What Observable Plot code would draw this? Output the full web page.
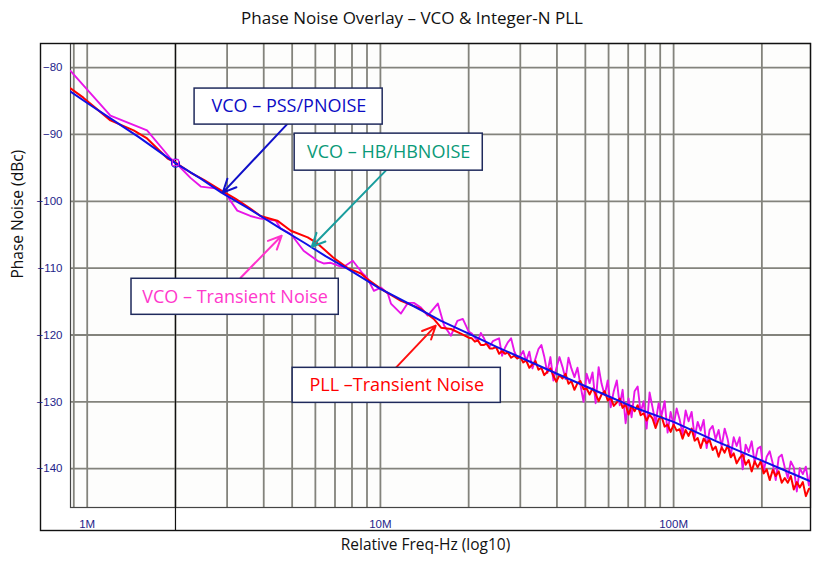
<!DOCTYPE html>
<html><head><meta charset="utf-8">
<script src="https://cdn.jsdelivr.net/npm/d3@7"></script>
<script src="https://cdn.jsdelivr.net/npm/@observablehq/plot@0.6"></script>
<style>
body{margin:0;background:#fff;width:824px;height:562px;overflow:hidden;font-family:"Open Sans",sans-serif}
#title{height:36px;line-height:36px;text-align:center;font-size:17px;color:#111}
#chart svg{display:block}
</style></head><body>
<div id="title">Phase Noise Overlay – VCO &amp; Integer-N PLL</div>
<div id="chart"></div>
<script>
// ---- data (frequency in MHz, phase noise in dBc) ----
const blueF = [0.877,1.0,1.2,1.5,2.0,2.44,2.87,3.5,4.5,5.5,6.5,7.74,10,13,16.1,20,25,30.2,40,56,75,100,140,200,250,293];
const blueV = [-83.6,-85.3,-87.6,-90.4,-94.3,-96.6,-98.7,-100.9,-103.9,-106.2,-108.2,-110.1,-113.1,-115.7,-117.9,-119.8,-121.8,-123.4,-125.8,-128.6,-131.0,-133.0,-135.9,-138.8,-140.6,-141.9];

const redLowF = [0.877,0.97,1.2,1.44,1.6,1.88,2.0,2.25,2.5,2.87,3.2,3.6,3.9,4.45,4.95,5.65,6.1,6.9,7.74,8.58,9.0,10.04,11.75,13.75,15.2,16.1,17.4,18.8];
const redLowV = [-83.1,-84.5,-87.9,-89.4,-90.6,-93.6,-94.2,-95.7,-96.8,-98.4,-99.6,-101.1,-102.2,-102.9,-104.4,-105.4,-106.3,-108.4,-110.0,-110.8,-111.6,-113.1,-114.9,-116.1,-117.6,-118.9,-119.1,-119.8];

const magLowF = [0.877,1.2,1.6,1.925,2.0,2.25,2.44,2.78,3.0,3.25,3.6,3.9,4.4,4.57,4.95,5.47,6.1,6.4,6.77,7.44,8.05,8.7,9.0,9.5,10.04,10.6,10.86,11.75,12.4,13.0,13.75,14.5,15.7,16.5,17.4,18.3,19.1];
const magLowV = [-80.5,-87.2,-89.4,-93.6,-94.2,-96.5,-97.8,-98.1,-99.2,-101.4,-102.2,-102.6,-102.9,-104.1,-104.9,-107.4,-108.9,-109.3,-109.2,-109.9,-108.9,-110.8,-111.4,-113.4,-112.9,-113.8,-115.3,-116.8,-115.2,-115.2,-115.9,-117.1,-115.3,-118.6,-120.1,-117.9,-117.6];

const noiseF = [20,20.5,21,21.5,22,22.5,23,23.6,24.2,24.8,25.4,26,26.6,27.2,27.9,28.6,29.3,30,30.7,31.4,32.2,33,33.8,34.6,35.4,36.2,37.1,38,38.9,39.8,40.8,41.8,42.8,43.8,44.8,45.9,47,48.1,49.3,50.5,51.7,52.9,54.2,55.5,56.8,58.2,59.6,61,62.5,64,65.5,67,68.6,70.2,71.9,73.6,75.4,77.2,79,80.9,82.8,84.8,86.8,88.9,91,93.2,95.4,97.7,100,102.4,104.8,107.3,109.9,112.5,115.2,118,120.8,123.7,126.6,129.6,132.7,135.9,139.1,142.4,145.8,149.3,152.9,156.6,160.3,164.1,168,172,176.1,180.3,184.6,189,193.5,198.1,202.8,207.7,212.7,217.8,223,228.3,233.8,239.4,245.1,251,257,263.1,269.4,275.9,282.5,289.3,293];

const redNoiseV = [-120.4,-120.5,-121.0,-120.8,-121.5,-121.5,-121.3,-122.0,-122.0,-121.8,
 -122.8,-122.4,-122.8,-122.6,-123.4,-123.1,-123.5,-123.3,-124.1,-123.8,
 -124.9,-124.4,-123.9,-125.2,-124.9,-126.0,-125.5,-125.0,-126.1,-127.0,
 -126.0,-126.5,-125.8,-127.3,-126.9,-128.2,-127.2,-126.9,-128.1,-128.0,
 -128.9,-128.0,-128.8,-129.9,-128.9,-128.4,-129.8,-129.4,-130.6,-130.1,
 -129.5,-130.9,-130.4,-131.9,-130.6,-131.4,-130.5,-132.0,-131.7,-132.8,
 -131.9,-132.5,-133.9,-132.6,-132.2,-133.7,-133.4,-134.5,-133.4,-134.3,
 -134.1,-135.5,-134.2,-135.1,-134.0,-135.8,-135.4,-136.9,-135.5,-136.2,
 -135.7,-137.2,-136.7,-138.2,-136.8,-137.6,-136.5,-138.3,-137.7,-139.2,
 -138.4,-137.9,-139.4,-138.7,-140.4,-138.9,-139.8,-138.9,-140.7,-140.1,
 -141.7,-140.2,-141.1,-140.4,-142.1,-141.4,-142.1,-141.1,-143.1,-142.0,
 -142.8,-142.0,-144.1,-143.0,-143.0];

const magNoiseV = [-119.5,-119.8,-120.4,-120.9,-119.7,-120.4,-121.3,-121.7,-120.9,-120.7,
 -120.5,-123.1,-121.9,-121.1,-120.5,-122.4,-123.5,-123.1,-122.4,-123.9,
 -122.5,-125.0,-123.5,-122.1,-121.5,-123.2,-125.7,-123.3,-126.8,-125.0,
 -123.3,-124.8,-126.6,-123.4,-125.0,-126.3,-124.9,-127.5,-130.0,-125.8,
 -127.2,-125.6,-130.2,-124.8,-127.3,-129.0,-126.8,-130.8,-128.4,-126.8,
 -130.5,-128.2,-133.2,-129.5,-132.3,-128.4,-127.7,-131.6,-129.9,-134.0,
 -128.6,-130.9,-133.2,-130.2,-132.0,-129.9,-134.6,-131.5,-133.5,-131.0,
 -132.6,-134.8,-131.3,-132.9,-131.5,-135.3,-133.0,-134.3,-132.7,-136.9,
 -134.2,-133.6,-135.6,-134.2,-136.7,-134.0,-135.6,-138.1,-135.3,-136.6,
 -135.3,-140.1,-136.4,-137.5,-135.9,-139.1,-137.0,-136.7,-140.4,-138.2,
 -137.4,-139.2,-141.7,-138.3,-137.9,-139.8,-141.4,-138.9,-139.8,-143.4,
 -139.9,-140.8,-139.7,-142.5,-140.8];

const xGrid = [0.9,1,2,3,4,5,6,7,8,9,10,20,30,40,50,60,70,80,90,100,200];
const xTicks = [1,10,100];
const xTickLabels = ["1M","10M","100M"];
const yTicks = [-80,-90,-100,-110,-120,-130,-140];
const cursorF = [2];

// annotation callouts (data units: MHz, dBc)
const notes = [
  {label:"VCO – PSS/PNOISE", color:"#0b0bc4", arrow:"#1010c8",
   x1:2.324, x2:10.18, y1:-83.14, y2:-88.53, tx:4.875, ty:-85.84, ax1:4.826, ay1:-88.38, ax2:2.90, ay2:-98.71},
  {label:"VCO – HB/HBNOISE", color:"#0a9a78", arrow:"#1a9e9e",
   x1:5.10, x2:22.34, y1:-89.88, y2:-95.42, tx:10.67, ty:-92.65, ax1:10.43, ay1:-95.42, ax2:5.83, ay2:-106.8},
  {label:"VCO – Transient Noise", color:"#ff38cc", arrow:"#ff33cc",
   x1:1.416, x2:7.21, y1:-111.59, y2:-116.98, tx:3.195, ty:-114.28, ax1:3.337, ay1:-111.44, ax2:4.605, ay2:-105.15},
  {label:"PLL –Transient Noise", color:"#ff0000", arrow:"#ff1010",
   x1:5.02, x2:25.74, y1:-124.91, y2:-130.15, tx:11.37, ty:-127.53, ax1:11.28, ay1:-124.91, ax2:15.44, ay2:-118.6}
];

const rows = (F, V) => F.map((f, i) => ({f, v: V[i]}));
const blue = rows(blueF, blueV);
const red = rows(redLowF.concat(noiseF), redLowV.concat(redNoiseV));
const mag = rows(magLowF.concat(noiseF), magLowV.concat(magNoiseV));

const BLUE = "#1010e6", RED = "#ff0000", MAG = "#e815e8", NAVY = "#1e1e8a", GRID = "#83837c";

const noteMarks = notes.flatMap(n => [
  Plot.arrow([n], {x1:"ax1", y1:"ay1", x2:"ax2", y2:"ay2", stroke:n.arrow, strokeWidth:2, headLength:11, headAngle:50}),
  Plot.rect([n], {x1:"x1", x2:"x2", y1:"y1", y2:"y2", fill:"white", stroke:"#1f2a5c", strokeWidth:1.5}),
  Plot.text([n], {x:"tx", y:"ty", text:"label", fill:n.color, fontSize:18, fontFamily:"Open Sans, sans-serif"})
]);

const svg = Plot.plot({
  width: 824, height: 526,
  marginTop: 7, marginRight: 14, marginBottom: 55, marginLeft: 70,
  x: {type: "log", domain: [0.877, 293]},
  y: {domain: [-145.8, -76.4]},
  style: {background: "transparent", fontFamily: "Open Sans, sans-serif"},
  marks: [
    Plot.frame({fill: "#fdfdfc"}),
    Plot.ruleX(xGrid, {stroke: GRID, strokeWidth: 1.8}),
    Plot.ruleY(yTicks, {stroke: GRID, strokeWidth: 1.8}),
    Plot.frame({stroke: "#444", strokeWidth: 1.2}),
    Plot.ruleX(cursorF, {stroke: "#111", strokeWidth: 1.2, insetBottom: -23}),
    Plot.frame({stroke: "#111", strokeWidth: 1.4, insetLeft: -30, insetBottom: -23}),
    Plot.axisY({ticks: yTicks, tickSize: 0, tickPadding: 8, color: NAVY, fontSize: 11.5, fontFamily: "Liberation Sans, Arial, sans-serif", label: null}),
    Plot.axisX({ticks: xTicks, tickFormat: d => xTickLabels[xTicks.indexOf(d)], tickSize: 0, tickPadding: 12, color: NAVY, fontSize: 11.5, fontFamily: "Liberation Sans, Arial, sans-serif", label: null}),
    Plot.line(mag, {x: "f", y: "v", stroke: MAG, strokeWidth: 1.9, clip: true}),
    Plot.line(red, {x: "f", y: "v", stroke: RED, strokeWidth: 2, clip: true}),
    Plot.line(blue, {x: "f", y: "v", stroke: BLUE, strokeWidth: 2, clip: true}),
    Plot.dot(blue.filter(d => d.f === 2), {x: "f", y: "v", r: 4, stroke: BLUE, strokeWidth: 1.2}),
    Plot.dot(mag.filter(d => d.f === 2), {x: "f", y: "v", r: 3.5, symbol: "square", stroke: MAG, strokeWidth: 1}),
    ...noteMarks,
    Plot.text(["Relative Freq-Hz (log10)"], {text: d => d, frameAnchor: "bottom", dx: -15, dy: 42, fontSize: 15.5, fill: "#111"}),
    Plot.text(["Phase Noise (dBc)"], {text: d => d, frameAnchor: "left", dx: -52, dy: 3, rotate: -90, fontSize: 15.5, fill: "#111"})
  ]
});
document.getElementById("chart").appendChild(svg);
</script></body></html>
